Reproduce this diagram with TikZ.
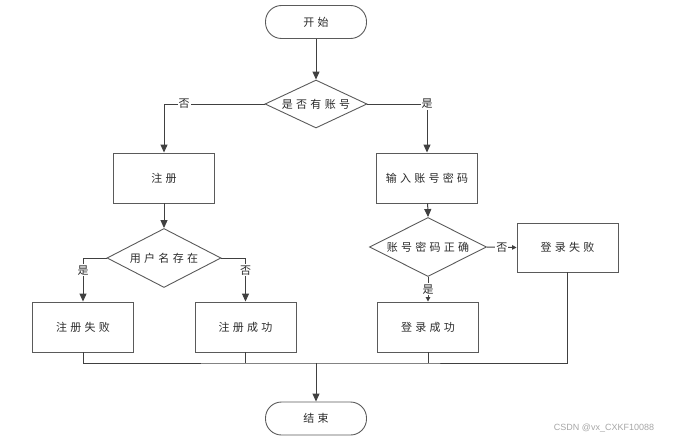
\documentclass[tikz,border=0pt]{standalone}
\usepackage{fontspec}
\newfontfamily\cjk{Noto Sans CJK SC}[LetterSpace=30]
\usetikzlibrary{arrows.meta,shapes.geometric}
\definecolor{ln}{HTML}{404040}
\definecolor{bd}{HTML}{5A5A5A}
\definecolor{tx}{HTML}{2A2A2A}
\tikzset{
  base/.style={draw=bd, line width=0.9pt, text=tx, font=\cjk\fontsize{11}{13}\selectfont, inner sep=0pt},
  term/.style={base, rectangle, rounded corners=16pt, minimum width=101pt, minimum height=33pt},
  proc/.style={base, rectangle, minimum width=101pt, minimum height=50pt},
  conn/.style={draw=ln, line width=1pt},
  arr/.style={conn, -{Triangle[length=8pt,width=7pt]}},
  sarr/.style={conn, -{Triangle[length=4.5pt,width=4.5pt]}},
  lbl/.style={fill=white, text=tx, font=\cjk\fontsize{11}{13}\selectfont, inner sep=1pt}
}
\begin{document}
\begin{tikzpicture}[x=1pt,y=-1pt]
\useasboundingbox (0,0) rectangle (684,441);
\node[term] (start) at (316,22) {开始};
\node[base, diamond, minimum width=102pt, minimum height=48pt] (d1) at (316,104) {};
\node[lbl, fill=none] (t1) at (316,104) {是否有账号};
\node[proc] (reg) at (164,178) {注册};
\node[proc] (inp) at (427,178) {输入账号密码};
\node[base, diamond, minimum width=114pt, minimum height=59pt] (d2) at (164,258) {};
\node[lbl, fill=none] (t2) at (164,258) {用户名存在};
\node[proc] (rf) at (83,327) {注册失败};
\node[proc] (rs) at (245.5,327) {注册成功};
\node[base, diamond, minimum width=117pt, minimum height=59pt] (d3) at (428,247) {};
\node[lbl, fill=none] (t3) at (428,247) {账号密码正确};
\node[proc, minimum height=49pt] (lf) at (567.5,247.5) {登录失败};
\node[proc] (ls) at (428,327) {登录成功};
\node[term] (fin) at (316,418.5) {结束};
\coordinate (m) at (316,363);

\draw[arr] (start) -- (d1.north);
\draw[arr] (d1.west) -| node[lbl, pos=0.4] {否} (reg.north);
\draw[arr] (d1.east) -| node[lbl, pos=0.5] {是} (inp.north);
\draw[arr] (reg) -- (d2.north);
\draw[arr] (d2.west) -| node[lbl, pos=0.64] {是} (rf.north);
\draw[arr] (d2.east) -| node[lbl, pos=0.64] {否} (rs.north);
\draw[arr] (inp) -- (d3.north);
\draw[sarr] (d3.east) -- node[lbl] {否} (lf.west);
\draw[sarr] (d3.south) -- node[lbl] {是} (ls.north);
\draw[conn] (rf.south) |- (m) -| (lf.south);
\draw[conn] (rs.south) -- (rs.south |- m);
\draw[conn] (ls.south) -- (ls.south |- m);
\draw[arr] (m) -- (fin.north);
\node[text=black!35, font=\fontspec{Liberation Sans}\fontsize{9}{10}\selectfont, inner sep=0pt] (wm) at (604,428) {CSDN @vx\_CXKF10088};
\end{tikzpicture}
\end{document}
